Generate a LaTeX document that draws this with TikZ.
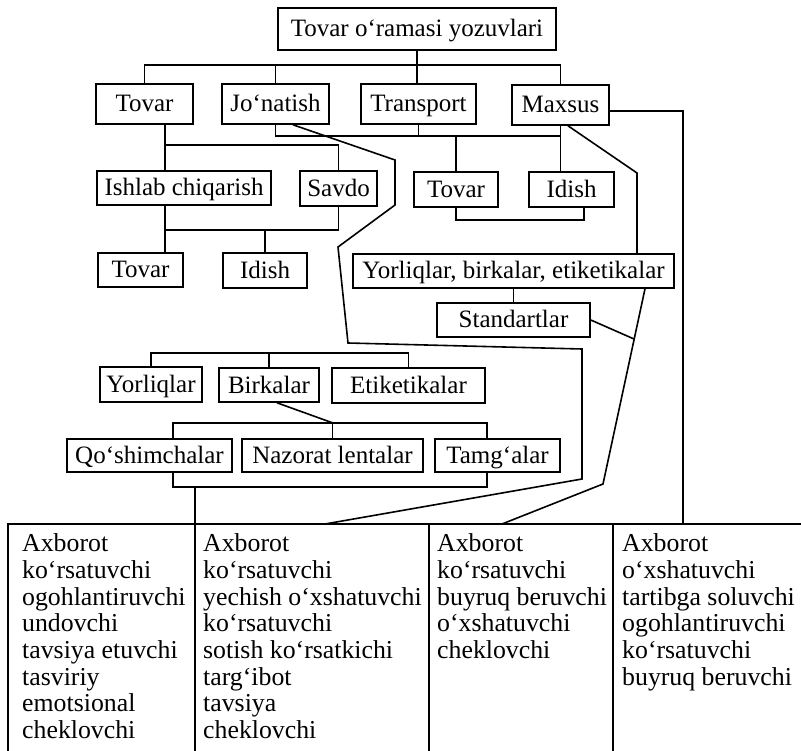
\documentclass[tikz,border=0pt]{standalone}
\usepackage{fontspec}
\setmainfont{Liberation Serif}
\usetikzlibrary{calc}
\begin{document}
\begin{tikzpicture}[x=1pt,y=-1pt,
  box/.style={draw, line width=1.6pt, inner sep=0pt, text height=18pt, text depth=2pt, font=\fontsize{25}{28}\selectfont},
  conn/.style={line width=1.6pt},
  cell/.style={anchor=north west, inner sep=0pt, align=left, font=\fontsize{25.8}{26.7}\selectfont}]
\useasboundingbox (0,0) rectangle (801,751);

% boxes
\node[box, minimum width=278, minimum height=42] (top) at (417,29) {Tovar o‘ramasi yozuvlari};
\node[box, minimum width=97, minimum height=40] (tovarA) at (144.5,104) {Tovar};
\node[box, minimum width=107, minimum height=40] (jonatish) at (275.5,104) {Jo‘natish};
\node[box, minimum width=115, minimum height=40] (transport) at (418.5,104) {Transport};
\node[box, minimum width=97, minimum height=40] (maxsus) at (560.5,105) {Maxsus};
\node[box, minimum width=174, minimum height=34] (ishlab) at (184,188) {Ishlab chiqarish};
\node[box, minimum width=77, minimum height=35] (savdo) at (338.5,188.5) {Savdo};
\node[box, minimum width=84, minimum height=35] (tovarC) at (456,189.5) {Tovar};
\node[box, minimum width=85, minimum height=35] (idishC) at (571.5,189.5) {Idish};
\node[box, minimum width=85, minimum height=34] (tovarD) at (140.5,270) {Tovar};
\node[box, minimum width=84, minimum height=35] (idishD) at (265,270.5) {Idish};
\node[box, minimum width=321, minimum height=34] (ybe) at (513.5,271) {Yorliqlar, birkalar, etiketikalar};
\node[box, minimum width=153, minimum height=34] (standart) at (513.5,320) {Standartlar};
\node[box, minimum width=102, minimum height=35] (yorliq) at (151,384.5) {Yorliqlar};
\node[box, minimum width=100, minimum height=34] (birkalar) at (269,385) {Birkalar};
\node[box, minimum width=153, minimum height=35] (etiket) at (408.5,385.5) {Etiketikalar};
\node[box, minimum width=165, minimum height=33] (qosh) at (149.5,455.5) {Qo‘shimchalar};
\node[box, minimum width=181, minimum height=33] (nazorat) at (332.5,455.5) {Nazorat lentalar};
\node[box, minimum width=125, minimum height=33] (tamg) at (497.5,455.5) {Tamg‘alar};

% helper coordinates
\coordinate (b1) at (0,65);
\coordinate (b2) at (0,136);
\coordinate (b4) at (0,145);
\coordinate (b5) at (0,230);
\coordinate (b6) at (0,353);
\coordinate (b7) at (0,423);
\coordinate (b8) at (0,487);
\coordinate (tt) at (0,524);
\coordinate (bot) at (0,751);
\coordinate (v1) at (165,0);
\coordinate (v2) at (195,0);
\coordinate (m1) at (637,173);
\coordinate (m2) at (683,0);
\coordinate (r1) at (645,0);
\coordinate (r2) at (603,484);
\coordinate (r3) at (634,339);
\coordinate (r4) at (502,524);
\coordinate (j1) at (395,160);
\coordinate (j2) at (395,205);
\coordinate (j3) at (338,247);
\coordinate (j4) at (348,343);
\coordinate (j5) at (582,349);
\coordinate (j6) at (582,479);
\coordinate (j7) at (325,524);
\coordinate (d1) at (333,423);
\coordinate (q1) at ([xshift=23.5pt]qosh.north);
\coordinate (t1) at ([xshift=-10.5pt]tamg.north);
\coordinate (tl) at (8,0);
\coordinate (tr) at (801,0);
\coordinate (k2) at (429,0);
\coordinate (k3) at (613,0);

% level 1 -> 2
\draw[conn] (top.south) -- (top.south |- transport.north);
\draw[conn] (tovarA.north) |- (b1 -| maxsus.north) -- (maxsus.north);
\draw[conn] (jonatish.north) -- (jonatish.north |- b1);

% Jo'natish / Transport / Maxsus -> Tovar, Idish
\draw[conn] (jonatish.south) |- (b2 -| maxsus.south);
\draw[conn] (transport.south) -- (transport.south |- b2);
\draw[conn] (maxsus.south) -- (maxsus.south |- idishC.north);
\draw[conn] (tovarC.north) -- (tovarC.north |- b2);
\draw[conn] (tovarC.south) -- ++(0,12) -| ([xshift=12.5pt]idishC.south);

% Tovar branch
\draw[conn] (v1 |- tovarA.south) -- (v1 |- ishlab.north);
\draw[conn] (v1 |- b4) -| (savdo.north);
\draw[conn] (v1 |- ishlab.south) -- (v1 |- tovarD.north);
\draw[conn] (v1 |- b5) -| (savdo.south);
\draw[conn] (idishD.north) -- (idishD.north |- b5);

% Maxsus lines
\draw[conn] ([xshift=7.5pt]maxsus.south) -- (m1) -- (m1 |- ybe.north);
\draw[conn] ([yshift=-6pt]maxsus.east) -| (m2 |- tt);

% Yorliqlar, birkalar, etiketikalar / Standartlar
\draw[conn] (ybe.south) -- (standart.north);
\draw[conn] (r1 |- ybe.south) -- (r2) -- (r4);
\draw[conn] (standart.east) -- (r3);

% Jo'natish long line
\draw[conn] ([xshift=17.5pt]jonatish.south) -- (j1) -- (j2) -- (j3) -- (j4) -- (j5) -- (j6) -- (j7);

% lower tree
\draw[conn] (yorliq.north) |- (b6 -| etiket.north) -- (etiket.north);
\draw[conn] (birkalar.north) -- (birkalar.north |- b6);
\draw[conn] ([xshift=8pt]birkalar.south) -- (d1);
\draw[conn] (q1) |- (b7 -| t1) -- (t1);
\draw[conn] (nazorat.north) -- (nazorat.north |- b7);
\draw[conn] (q1 |- qosh.south) |- (b8 -| t1) -- (t1 |- tamg.south);
\draw[conn] (v2 |- b8) -- (v2 |- tt);

% table
\draw[conn] (tl |- bot) -- (tl |- tt) -- (tr |- tt);
\draw[conn] (v2 |- tt) -- (v2 |- bot);
\draw[conn] (k2 |- tt) -- (k2 |- bot);
\draw[conn] (k3 |- tt) -- (k3 |- bot);

\node[cell] (c1) at (22,533.5) {Axborot\\ko‘rsatuvchi\\ogohlantiruvchi\\undovchi\\tavsiya etuvchi\\tasviriy\\emotsional\\cheklovchi};
\node[cell] (c2) at (203,533.5) {Axborot\\ko‘rsatuvchi\\yechish o‘xshatuvchi\\ko‘rsatuvchi\\sotish ko‘rsatkichi\\targ‘ibot\\tavsiya\\cheklovchi};
\node[cell] (c3) at (437,533.5) {Axborot\\ko‘rsatuvchi\\buyruq beruvchi\\o‘xshatuvchi\\cheklovchi};
\node[cell] (c4) at (622,533.5) {Axborot\\o‘xshatuvchi\\tartibga soluvchi\\ogohlantiruvchi\\ko‘rsatuvchi\\buyruq beruvchi};
\end{tikzpicture}
\end{document}
